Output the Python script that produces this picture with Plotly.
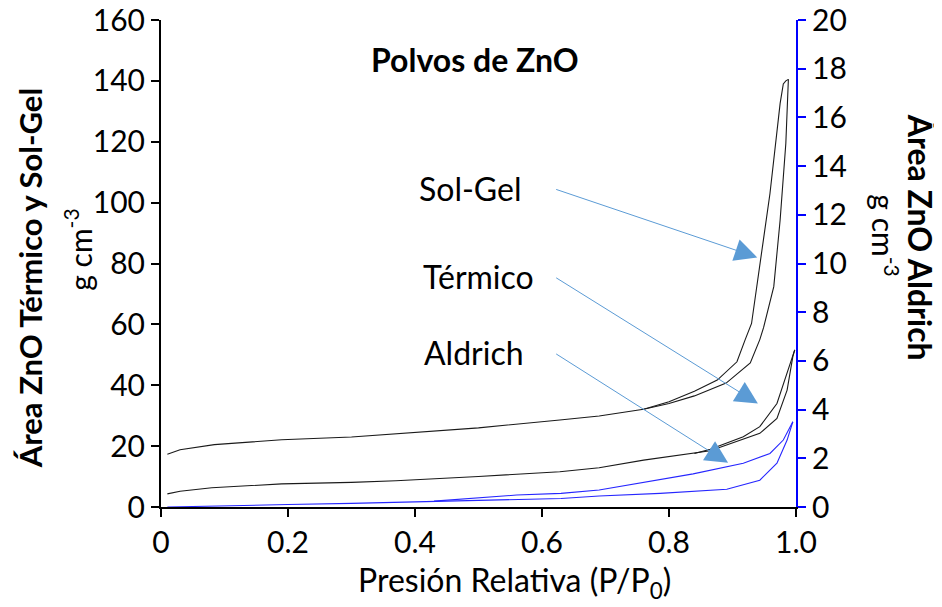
import plotly.graph_objects as go

# Sol-Gel isotherm (left axis)
solgel_ads_x = [0.01, 0.03, 0.084, 0.19, 0.30, 0.37, 0.50, 0.628, 0.69, 0.76, 0.80, 0.84, 0.89, 0.928, 0.943, 0.949, 0.965, 0.975, 0.984, 0.988]
solgel_ads_y = [17.3, 18.8, 20.5, 22.1, 23.0, 24.0, 26.0, 28.6, 29.9, 32.1, 34.0, 36.5, 40.7, 47.3, 55.0, 59.0, 72.4, 94.3, 119.5, 140.5]
solgel_des_x = [0.988, 0.984, 0.98, 0.975, 0.959, 0.943, 0.93, 0.92, 0.907, 0.876, 0.84, 0.80, 0.76]
solgel_des_y = [140.5, 140.0, 139.0, 132.6, 103.0, 79.0, 60.3, 55.0, 47.7, 41.7, 38.0, 34.6, 32.1]

# Térmico isotherm (left axis)
termico_ads_x = [0.01, 0.03, 0.08, 0.19, 0.30, 0.37, 0.50, 0.628, 0.69, 0.76, 0.865, 0.943, 0.97, 0.986, 0.995, 0.998]
termico_ads_y = [4.3, 5.2, 6.3, 7.6, 8.1, 8.6, 10.0, 11.6, 12.9, 15.4, 18.5, 24.2, 29.1, 38.4, 49.4, 51.6]
termico_des_x = [0.998, 0.991, 0.97, 0.943, 0.917, 0.865, 0.84]
termico_des_y = [51.6, 47.2, 34.0, 26.4, 23.1, 19.0, 17.6]

# Aldrich isotherm (right axis)
aldrich_ads_x = [0.01, 0.04, 0.10, 0.20, 0.30, 0.43, 0.56, 0.63, 0.69, 0.786, 0.891, 0.943, 0.97, 0.986, 0.995]
aldrich_ads_y = [0.0, 0.02, 0.05, 0.10, 0.15, 0.24, 0.31, 0.35, 0.45, 0.56, 0.73, 1.10, 1.80, 2.75, 3.50]
aldrich_des_x = [0.995, 0.98, 0.959, 0.917, 0.838, 0.734, 0.69, 0.63, 0.56, 0.43]
aldrich_des_y = [3.50, 2.75, 2.20, 1.80, 1.36, 0.875, 0.70, 0.56, 0.49, 0.24]

x_ticks = [0, 0.2, 0.4, 0.6, 0.8, 1.0]
x_ticktext = ["0", "0.2", "0.4", "0.6", "0.8", "1.0"]

# label positions: (name, text x, text y, arrow head x, arrow head y)
labels = [
    ("Sol-Gel", 0.487, 104.5, 0.939, 82.0),
    ("Térmico", 0.50, 75.6, 0.94, 34.0),
    ("Aldrich", 0.493, 50.6, 0.893, 14.5),
]

FONT = "Lato"
black = "#1a1a1a"
blue = "#2626ff"

fig = go.Figure()
for xs, ys in [(solgel_ads_x, solgel_ads_y), (solgel_des_x, solgel_des_y),
               (termico_ads_x, termico_ads_y), (termico_des_x, termico_des_y)]:
    fig.add_trace(go.Scatter(x=xs, y=ys, mode="lines", line=dict(color=black, width=1.1),
                             showlegend=False, hoverinfo="skip"))
for xs, ys in [(aldrich_ads_x, aldrich_ads_y), (aldrich_des_x, aldrich_des_y)]:
    fig.add_trace(go.Scatter(x=xs, y=ys, mode="lines", line=dict(color=blue, width=1.1),
                             showlegend=False, hoverinfo="skip", yaxis="y2"))

for name, tx, ty, hx, hy in labels:
    fig.add_annotation(x=tx, y=ty, xref="x", yref="y", text=name, showarrow=False,
                       xanchor="center", yanchor="middle",
                       font=dict(family=FONT, size=32, color="black"))
    fig.add_annotation(x=hx, y=hy, xref="x", yref="y", ax=0.62, ay=ty, axref="x", ayref="y",
                       text="", showarrow=True, arrowhead=2, arrowsize=4.5, arrowwidth=1,
                       arrowcolor="#5b9bd5", standoff=0)


def paper_text(x, y, text, size, angle=0):
    fig.add_annotation(x=x, y=y, xref="paper", yref="paper", text=text, textangle=angle,
                       showarrow=False, xanchor="center", yanchor="middle",
                       font=dict(family=FONT, size=size, color="black"))


paper_text(0.494, 0.918, "<b>Polvos de ZnO</b>", 32)
paper_text(-0.206, 0.47, "<b>Área ZnO Térmico y Sol-Gel</b>", 31, -90)
paper_text(-0.131, 0.528, "g cm<sup>-3</sup>", 30, -90)
paper_text(1.196, 0.554, "<b>Área ZnO Aldrich</b>", 32, 90)
paper_text(1.14, 0.558, "g cm<sup>-3</sup>", 30, 90)
paper_text(0.556, -0.154, "Presión Relativa (P/P<sub>0</sub>)", 32)

fig.update_layout(
    width=942, height=607,
    margin=dict(l=153, r=154, t=12, b=108, autoexpand=False),
    plot_bgcolor="white", paper_bgcolor="white",
    font=dict(family=FONT, size=30, color="black"),
    xaxis=dict(range=[0, 1.0], tickvals=x_ticks, ticktext=x_ticktext, showgrid=False, zeroline=False,
               showline=True, linecolor="black", linewidth=2, ticks="outside", ticklen=8,
               tickcolor="black", tickwidth=2, automargin=False, ticklabeloverflow="allow"),
    yaxis=dict(range=[0, 160], dtick=20, showgrid=False, zeroline=False, showline=True,
               linecolor="black", linewidth=2, ticks="outside", ticklen=8, tickcolor="black",
               tickwidth=2, automargin=False, ticklabeloverflow="allow"),
    yaxis2=dict(range=[0, 20], dtick=2, overlaying="y", side="right", anchor="x", showgrid=False,
                zeroline=False, showline=True, linecolor="#0000ff", linewidth=2, ticks="outside",
                ticklen=8, tickcolor="#0000ff", tickwidth=2, automargin=False,
                ticklabeloverflow="allow"),
)

fig.write_html("out.html")
